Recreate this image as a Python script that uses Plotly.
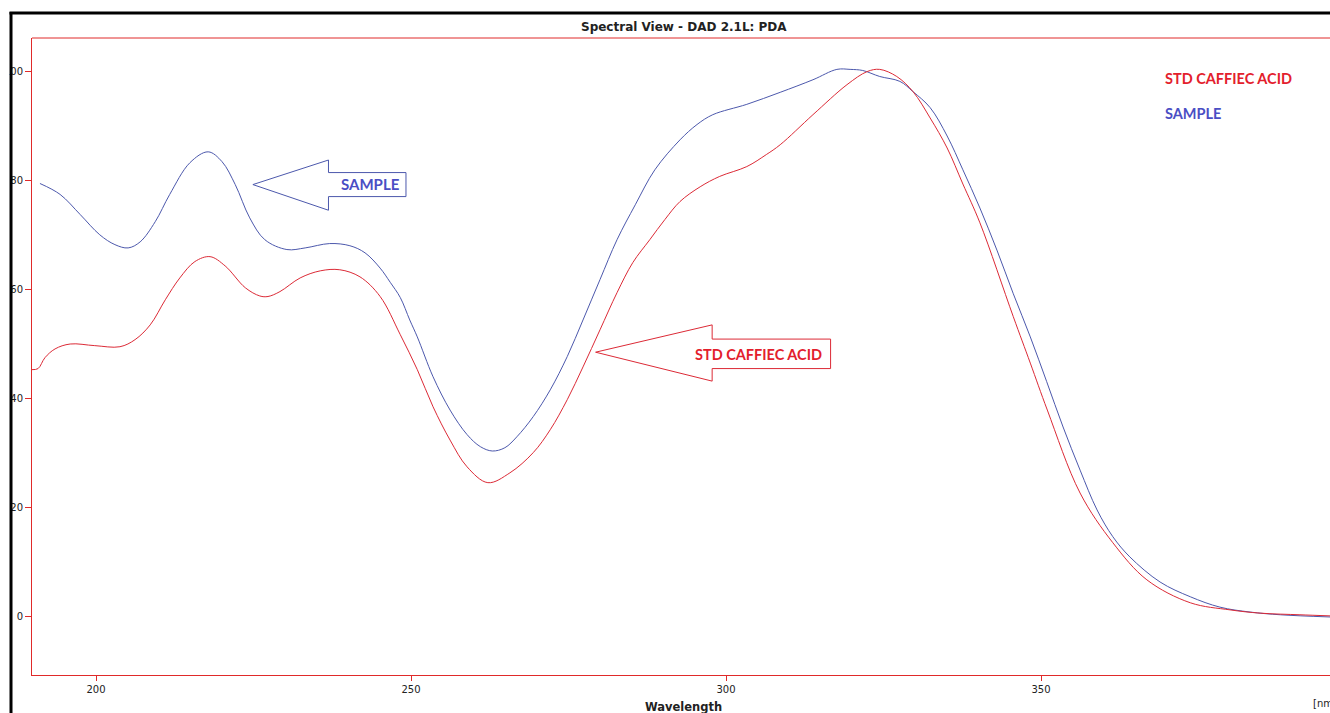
import plotly.graph_objects as go

# ---- data ----
sample_wl = [191.1, 194.3, 197.5, 200.6, 203.0, 205.1, 207.0, 209.4, 211.7, 214.9, 217.8, 220.0,
             222.1, 224.4, 226.8, 230.3, 233.2, 237.1, 240.3, 242.7, 245.1, 246.7, 248.3, 249.8,
             251.0, 253.5, 256.2, 258.9, 261.0, 262.9, 264.9, 266.8, 269.4, 272.1, 274.8, 277.3,
             280.0, 282.7, 285.6, 288.7, 292.7, 295.4, 297.9, 303.3, 308.6, 313.8, 317.6, 319.7,
             321.7, 324.4, 327.6, 329.7, 332.4, 335.1, 337.6, 340.3, 343.0, 345.6, 348.3, 350.9,
             353.5, 356.2, 358.9, 361.4, 364.1, 368.9, 373.7, 378.4, 383.2, 388.0, 395.9]
sample_mau = [79.4, 77.4, 73.7, 70.0, 68.2, 67.6, 68.7, 72.4, 77.4, 83.2, 85.2, 83.4,
              79.2, 73.1, 69.1, 67.3, 67.6, 68.4, 68.0, 66.7, 63.9, 61.3, 58.5, 54.4,
              51.3, 44.0, 37.9, 33.4, 31.2, 30.4, 31.0, 33.0, 36.7, 41.6, 47.7, 54.4,
              61.8, 69.1, 75.5, 81.9, 87.4, 90.2, 92.0, 93.9, 96.1, 98.4, 100.3, 100.3,
              100.1, 99.0, 98.1, 96.2, 93.3, 88.1, 81.9, 74.9, 67.2, 59.2, 51.3, 43.1,
              34.8, 26.9, 19.6, 14.7, 11.0, 6.4, 3.7, 1.8, 0.9, 0.4, 0.0]

std_wl = [189.8, 190.8, 191.9, 193.5, 195.9, 199.8, 203.8, 206.2, 208.6, 211.0, 213.3, 215.7,
          218.1, 220.5, 223.7, 226.0, 227.3, 229.2, 232.4, 235.6, 238.7, 241.9, 245.1, 248.3,
          251.0, 253.5, 256.2, 258.9, 262.2, 265.7, 269.4, 272.1, 274.8, 277.3, 280.0, 282.7,
          285.2, 287.9, 290.3, 292.7, 295.9, 299.0, 303.3, 306.4, 308.6, 313.8, 319.2, 322.4,
          324.4, 327.1, 329.7, 332.4, 335.1, 337.6, 340.3, 345.6, 348.3, 351.0, 356.2, 361.4,
          366.8, 373.7, 380.0, 384.8, 391.1, 395.9]
std_mau = [45.3, 45.5, 47.5, 49.1, 50.0, 49.7, 49.5, 50.8, 53.5, 58.1, 62.1, 65.1,
           66.0, 64.3, 60.3, 58.8, 58.7, 59.6, 62.1, 63.4, 63.6, 62.3, 58.7, 51.7,
           45.3, 38.5, 32.4, 27.5, 24.6, 26.4, 30.1, 34.3, 39.8, 45.8, 52.6, 59.4,
           64.9, 69.1, 72.8, 76.1, 78.8, 80.7, 82.5, 84.7, 86.5, 92.0, 97.5, 99.9,
           100.3, 99.0, 96.2, 91.4, 85.9, 79.3, 72.2, 55.0, 46.5, 37.9, 22.7, 13.6,
           6.8, 2.6, 1.3, 0.7, 0.4, 0.2]

x_ticks = [200, 250, 300, 350]
y_ticks = [0, 20, 40, 60, 80, 100]
title_text = "Spectral View - DAD 2.1L: PDA"
std_name = "STD CAFFIEC ACID"
sample_name = "SAMPLE"

RED = "#dc2a36"
BLUE = "#4c58ac"
AXIS_RED = "#e02a2a"
TXT_RED = "#e3202c"
TXT_BLUE = "#4a4ec4"

W, H = 1330, 713
L, T, B, R = 32, 38, 38, 0
X_RANGE = [189.84, 395.87]
Y_RANGE = [-10.63, 106.05]

fig = go.Figure()
fig.add_trace(go.Scatter(x=sample_wl, y=sample_mau, mode="lines", name=sample_name,
                         line=dict(color=BLUE, width=1, shape="spline", smoothing=1.0),
                         hoverinfo="skip"))
fig.add_trace(go.Scatter(x=std_wl, y=std_mau, mode="lines", name=std_name,
                         line=dict(color=RED, width=1, shape="spline", smoothing=1.0),
                         hoverinfo="skip"))

# y unit label (partially hidden by the frame, as in the screenshot)
fig.add_trace(go.Scatter(x=[X_RANGE[0] - 1.6], y=[Y_RANGE[1] + 0.75], mode="text",
                         text=["[mAU]"], textposition="middle left",
                         textfont=dict(family="DejaVu Sans", size=10, color="#222222"),
                         cliponaxis=False, showlegend=False, hoverinfo="skip"))

shapes = []


def arrow_path(tip_x, tip_y, head_x, head_top, head_bot, shaft_top, shaft_bot, right_x):
    return (f"M {tip_x} {tip_y} L {head_x} {head_top} L {head_x} {shaft_top} "
            f"L {right_x} {shaft_top} L {right_x} {shaft_bot} L {head_x} {shaft_bot} "
            f"L {head_x} {head_bot} Z")


shapes.append(dict(type="path", xref="x", yref="y",
                   path=arrow_path(224.9, 79.2, 236.9, 83.7, 74.5, 81.4, 77.0, 249.2),
                   line=dict(color=BLUE, width=1), fillcolor="rgba(255,255,255,0)", layer="above"))
shapes.append(dict(type="path", xref="x", yref="y",
                   path=arrow_path(279.3, 48.5, 297.8, 53.5, 43.2, 50.9, 45.5, 316.6),
                   line=dict(color=RED, width=1), fillcolor="rgba(255,255,255,0)", layer="above"))

# plot top border
shapes.append(dict(type="line", xref="paper", yref="paper", x0=0, x1=1.01, y0=1, y1=1,
                   line=dict(color=AXIS_RED, width=1), layer="above"))


def px_x(p):
    """page pixel x -> paper x"""
    return (p - L) / (W - L - R)


def px_y(p):
    """page pixel y -> paper y"""
    return (H - B - p) / (H - T - B)


# white mask left of the black frame, then the frame itself
shapes.append(dict(type="rect", xref="paper", yref="paper", x0=px_x(-20), x1=px_x(9.5),
                   y0=px_y(H + 30), y1=px_y(-20), line=dict(width=0), fillcolor="white", layer="above"))
shapes.append(dict(type="line", xref="paper", yref="paper", x0=px_x(11), x1=px_x(11),
                   y0=px_y(12), y1=px_y(H + 30), line=dict(color="black", width=3), layer="above"))
shapes.append(dict(type="line", xref="paper", yref="paper", x0=px_x(9.5), x1=px_x(W + 30),
                   y0=px_y(13), y1=px_y(13), line=dict(color="black", width=3), layer="above"))

annotations = [
    dict(text=f"<b>{title_text}</b>", xref="paper", yref="paper", x=px_x(684), y=px_y(27),
         showarrow=False, font=dict(family="DejaVu Sans", size=12, color="#222222"),
         xanchor="center", yanchor="middle"),
    dict(text="<b>Wavelength</b>", xref="paper", yref="paper", x=px_x(683), y=px_y(707),
         showarrow=False, font=dict(family="DejaVu Sans", size=11.5, color="#222222"),
         xanchor="center", yanchor="middle"),
    dict(text="[nm]", xref="paper", yref="paper", x=px_x(1311), y=px_y(703),
         showarrow=False, font=dict(family="DejaVu Sans", size=10, color="#222222"),
         xanchor="left", yanchor="middle"),
    dict(text=f"<b>{std_name}</b>", xref="x", yref="y", x=369.4, y=98.7, showarrow=False,
         font=dict(family="Lato", size=14.5, color=TXT_RED), xanchor="left", yanchor="middle"),
    dict(text=f"<b>{sample_name}</b>", xref="x", yref="y", x=369.4, y=92.3, showarrow=False,
         font=dict(family="Lato", size=14.5, color=TXT_BLUE), xanchor="left", yanchor="middle"),
    dict(text=f"<b>{sample_name}</b>", xref="x", yref="y", x=243.6, y=79.3, showarrow=False,
         font=dict(family="Lato", size=15, color=TXT_BLUE), xanchor="center", yanchor="middle"),
    dict(text=f"<b>{std_name}</b>", xref="x", yref="y", x=305.1, y=48.0, showarrow=False,
         font=dict(family="Lato", size=14.5, color=TXT_RED), xanchor="center", yanchor="middle"),
]

fig.update_layout(
    width=W, height=H,
    margin=dict(l=L, r=R, t=T, b=B, pad=0),
    paper_bgcolor="white", plot_bgcolor="white",
    showlegend=False,
    shapes=shapes,
    annotations=annotations,
    xaxis=dict(range=X_RANGE, tickmode="array", tickvals=x_ticks, ticks="outside", ticklen=5,
               tickcolor=AXIS_RED, showline=True, linecolor=AXIS_RED, linewidth=1,
               showgrid=False, zeroline=False, fixedrange=True,
               tickfont=dict(family="DejaVu Sans", size=10, color="#222222")),
    yaxis=dict(range=Y_RANGE, tickmode="array", tickvals=y_ticks, ticks="outside", ticklen=6,
               tickcolor=AXIS_RED, showline=True, linecolor=AXIS_RED, linewidth=1,
               showgrid=False, zeroline=False, fixedrange=True, ticklabelstandoff=0,
               tickfont=dict(family="DejaVu Sans", size=10, color="#222222")),
)

fig.write_html("out.html",
               config={"displayModeBar": False},
               post_script="document.body.style.margin='0px';document.body.style.overflow='hidden';")
